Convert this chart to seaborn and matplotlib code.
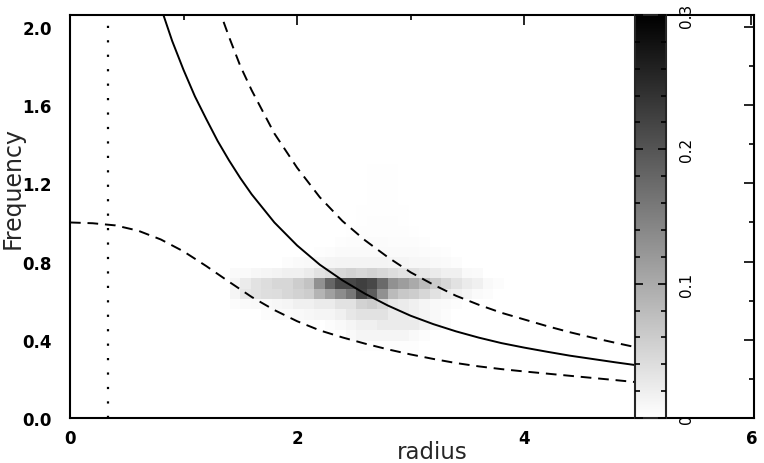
import numpy as np
import pandas as pd
import seaborn as sns
import matplotlib.pyplot as plt
from matplotlib.ticker import MultipleLocator

# ---------------- data ----------------
# 2D histogram grid (regular bins)
x_bin_start, x_bin_width, n_xbins = 1.407, 0.0928, 26
y_bin_start, y_bin_width, n_ybins = 0.343, 0.0532, 18

# rows from bottom to top: (first column index, values)
density_rows = [
    (12, [.003, .003, .003, .003, .003, .003]),
    (11, [.008, .012, .012, .012, .012, .012, .008, .004]),
    (9, [.004, .008, .012, .018, .018, .024, .024, .024, .024, .018, .012, .006]),
    (3, [.004, .006, .006, .008, .010, .012, .012, .018, .029, .035, .035, .035,
         .024, .024, .018, .012, .008, .004]),
    (0, [.004, .006, .008, .008, .010, .012, .018, .018, .024, .024, .035, .035,
         .053, .059, .047, .029, .024, .018, .012, .008, .006, .004]),
    (0, [.012, .030, .035, .039, .041, .047, .053, .059, .088, .112, .135, .160,
         .220, .190, .130, .080, .065, .059, .047, .035, .024, .018, .012, .006, .004]),
    (0, [.012, .024, .035, .041, .047, .047, .059, .071, .130, .180, .215, .215,
         .225, .215, .175, .130, .115, .100, .080, .062, .047, .035, .024, .018, .008, .004]),
    (0, [.006, .006, .010, .012, .015, .018, .018, .024, .035, .041, .047, .053,
         .047, .053, .047, .041, .035, .035, .029, .024, .018, .018, .008, .006]),
    (5, [.004, .006, .008, .010, .012, .014, .014, .014, .014, .014, .012, .012,
         .010, .010, .008, .006, .004]),
    (8, [.003, .004, .006, .006, .007, .007, .007, .006, .006, .006, .005, .004, .003]),
    (10, [.003, .004, .004, .005, .005, .004, .004, .004, .003]),
    (11, [.002, .003, .003, .003, .003, .003, .002]),
    (12, [.002, .003, .003, .003, .002]),
    (12, [.002, .002, .002, .002, .002]),
    (13, [.002, .002, .002]),
    (13, [.002, .002, .002]),
    (13, [.002, .002, .002]),
    (13, [.002, .002, .002]),
]

# curves
solid_x = [0.80, 0.90, 1.00, 1.10, 1.20, 1.30, 1.40, 1.50, 1.60, 1.80, 2.00, 2.20,
           2.40, 2.60, 2.80, 3.00, 3.20, 3.40, 3.60, 3.80, 4.00, 4.20, 4.40, 4.60,
           4.80, 4.975]
solid_y = [2.10, 1.928, 1.78, 1.645, 1.529, 1.417, 1.318, 1.227, 1.144, 1.00, 0.8825,
           0.784, 0.704, 0.635, 0.575, 0.523, 0.480, 0.443, 0.411, 0.383, 0.360,
           0.339, 0.319, 0.302, 0.285, 0.271]

upper_x = [1.30, 1.40, 1.50, 1.60, 1.80, 2.00, 2.20, 2.40, 2.60, 2.80, 3.00, 3.20,
           3.40, 3.60, 3.80, 4.00, 4.20, 4.40, 4.60, 4.80, 4.975]
upper_y = [2.11, 1.95, 1.80, 1.676, 1.455, 1.28, 1.129, 1.007, 0.908, 0.822, 0.745,
           0.682, 0.625, 0.579, 0.538, 0.504, 0.470, 0.439, 0.411, 0.385, 0.363]

lower_x = [0.0, 0.2, 0.4, 0.6, 0.8, 1.0, 1.2, 1.4, 1.6, 1.8, 2.0, 2.2, 2.4, 2.6,
           2.8, 3.0, 3.2, 3.4, 3.6, 3.8, 4.0, 4.2, 4.4, 4.6, 4.8, 4.975]
lower_y = [1.0, 0.996, 0.985, 0.958, 0.913, 0.852, 0.777, 0.697, 0.619, 0.552, 0.495,
           0.448, 0.412, 0.380, 0.351, 0.325, 0.302, 0.281, 0.264, 0.250, 0.238,
           0.227, 0.216, 0.205, 0.194, 0.184]

dotted_x = 0.335

cbar_ticks = [0, 0.1, 0.2, 0.3]
cbar_labels = ["0", "0.1", "0.2", "0.3"]

# ---------------- build table ----------------
x_edges = np.round(x_bin_start + x_bin_width * np.arange(n_xbins + 1), 4)
y_edges = np.round(y_bin_start + y_bin_width * np.arange(n_ybins + 1), 4)
x_centers = (x_edges[:-1] + x_edges[1:]) / 2
y_centers = (y_edges[:-1] + y_edges[1:]) / 2

recs = []
for i, (c0, vals) in enumerate(density_rows):
    for j, v in enumerate(vals):
        recs.append({"radius": x_centers[c0 + j], "freq": y_centers[i], "w": v})
df = pd.DataFrame(recs)

# ---------------- plot ----------------
sns.set_style("white")
plt.rcParams["font.family"] = ["DejaVu Sans"]
plt.rcParams["axes.axisbelow"] = False   # ticks must sit on top of the colour bar

fig = plt.figure(figsize=(7.64, 4.64), dpi=100)
ax = fig.add_axes([70 / 764, 45 / 464, 684 / 764, 403 / 464])
cax = fig.add_axes([635 / 764, 45 / 464, 31 / 764, 403 / 464])

sns.histplot(data=df, x="radius", y="freq", weights="w", bins=[x_edges, y_edges],
             cmap="gray_r", vmin=0, vmax=0.3, cbar=True, cbar_ax=cax, ax=ax)

ax.plot(solid_x, solid_y, color="black", lw=1.4)
ax.plot(upper_x, upper_y, color="black", lw=1.4, linestyle=(0, (5.5, 3.5)))
ax.plot(lower_x, lower_y, color="black", lw=1.4, linestyle=(0, (5.5, 3.5)))
ax.axvline(dotted_x, color="black", lw=1.6, linestyle=(0, (1, 5.5)))

ax.set_xlim(0, 6.024)
ax.set_ylim(0, 2.061)
ax.xaxis.set_major_locator(MultipleLocator(2))
ax.xaxis.set_minor_locator(MultipleLocator(1))
ax.yaxis.set_major_locator(MultipleLocator(0.4))
ax.yaxis.set_minor_locator(MultipleLocator(0.2))
ax.yaxis.set_major_formatter(plt.FormatStrFormatter("%.1f"))
ax.tick_params(which="both", direction="in", top=True, right=True, width=1.2,
               labelsize=12, colors="black")
ax.tick_params(which="major", length=7)
ax.tick_params(which="minor", length=3.5)
ax.tick_params(axis="y", pad=13)
ax.tick_params(axis="x", pad=8)
for lab in ax.get_xticklabels() + ax.get_yticklabels():
    lab.set_fontweight("bold")
for sp in ax.spines.values():
    sp.set_linewidth(1.5)
    sp.set_color("black")

ax.set_xlabel("radius", fontsize=16.5)
ax.set_ylabel("Frequency", fontsize=17)
ax.xaxis.set_label_coords(0.529, -0.054)
ax.yaxis.set_label_coords(-0.066, 0.573)

# colour bar styling
cbar = ax.collections[0].colorbar
cbar.set_ticks(cbar_ticks, labels=cbar_labels)
cbar.minorlocator = MultipleLocator(0.02)
cbar.outline.set_linewidth(1.5)
cax.set_axisbelow(False)
cax.tick_params(which="both", direction="in", left=True, right=True,
                labelleft=False, labelright=True, width=1.2, labelsize=11, pad=9,
                colors="black")
cax.tick_params(which="major", length=6)
cax.tick_params(which="minor", length=3.5)
for lab in cax.get_yticklabels():
    lab.set_rotation(90)
    lab.set_va("center")

fig.savefig("out.png", dpi=100)
